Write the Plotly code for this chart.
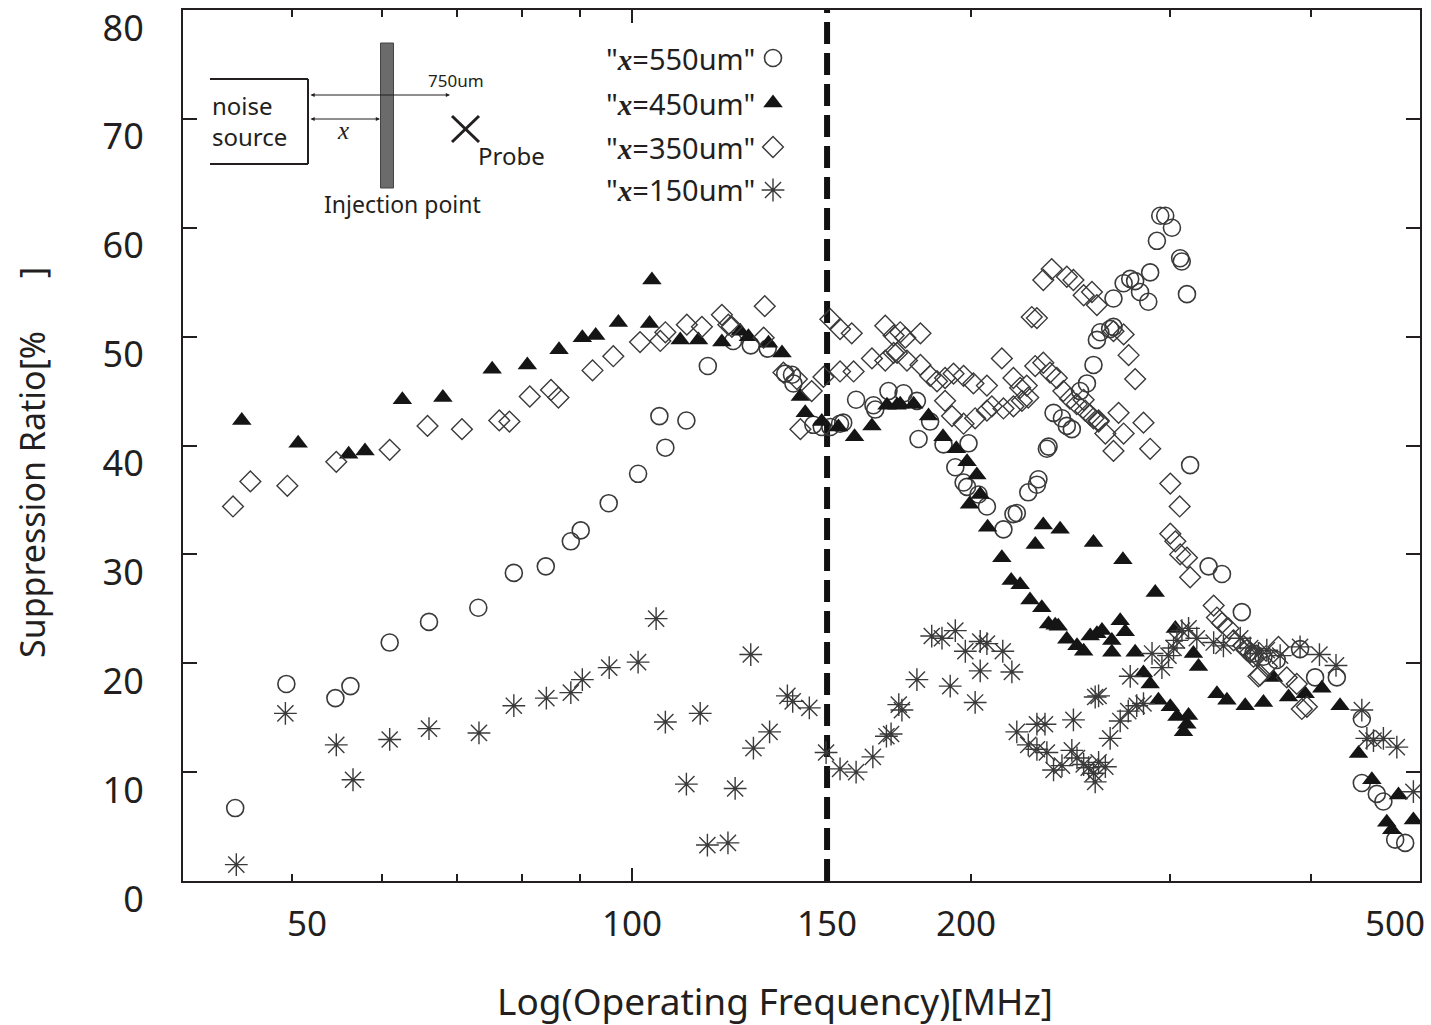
import math
import plotly.graph_objects as go

# ---------------- data (frequency MHz, suppression ratio %) ----------------
f550 = [44.5, 49.4, 54.6, 56.3, 61.0, 66.1, 73.1, 78.6, 83.9, 88.3,
        90.1, 95.4, 101.3, 105.8, 107.1, 111.8, 116.8, 123.0, 127.5, 132.0,
        136.8, 138.7, 139.1, 144.9, 147.4, 150.0, 153.0, 154.0, 158.1, 163.8,
        164.4, 168.9, 174.2, 179.0, 183.9, 179.6, 189.0, 198.9, 193.6, 196.9,
        198.3, 203.0, 206.5, 213.6, 218.0, 219.5, 224.7, 228.7, 229.4, 233.4,
        234.2, 236.6, 240.7, 243.1, 245.6, 249.8, 253.3, 256.7, 258.5, 260.3,
        265.6, 267.4, 267.4, 273.0, 276.7, 279.5, 282.3, 287.1, 288.2, 292.2,
        294.2, 297.2, 301.3, 306.4, 307.4, 310.7, 312.7, 324.7, 333.7, 347.5,
        355.9, 363.2, 373.2, 391.4, 403.6, 421.9, 444.0, 444.0, 457.8, 464.0,
        475.3, 485.1]
r550 = [6.7, 18.1, 16.8, 17.9, 21.9, 23.8, 25.1, 28.3, 28.9, 31.2,
        32.2, 34.7, 37.4, 42.7, 39.8, 42.3, 47.3, 49.6, 49.2, 48.9,
        46.6, 46.5, 45.7, 41.9, 41.7, 41.7, 42.0, 42.1, 44.2, 43.7,
        43.3, 45.0, 44.8, 44.1, 42.2, 40.6, 40.1, 40.2, 38.0, 36.6,
        36.2, 35.5, 34.4, 32.3, 33.7, 33.8, 35.7, 36.4, 36.9, 39.7,
        39.9, 43.0, 42.5, 41.8, 41.5, 45.0, 45.7, 47.4, 49.7, 50.4,
        50.7, 50.9, 53.5, 54.9, 55.3, 55.1, 54.1, 53.2, 55.9, 58.8,
        61.1, 61.1, 60.0, 57.2, 56.9, 53.9, 38.2, 28.9, 28.2, 24.7,
        20.9, 20.6, 20.3, 21.3, 18.7, 18.7, 14.9, 9.0, 8.0, 7.3,
        3.8, 3.5]

f450 = [45.1, 50.6, 56.1, 58.0, 62.6, 68.0, 75.2, 80.8, 86.2, 90.4,
        92.9, 97.3, 103.7, 104.2, 110.4, 114.6, 120.2, 124.8, 126.9, 132.2,
        135.9, 141.1, 142.5, 147.4, 152.5, 157.6, 163.3, 168.4, 171.9, 173.0,
        177.8, 183.3, 188.8, 194.0, 198.3, 202.3, 203.7, 199.3, 206.8, 212.9,
        217.0, 221.0, 225.5, 231.0, 234.2, 238.9, 243.1, 248.2, 251.6, 255.0,
        258.5, 227.9, 231.7, 239.8, 256.7, 237.4, 261.2, 266.5, 266.5, 271.1,
        273.9, 279.5, 272.6, 291.2, 284.3, 288.2, 293.1, 300.3, 304.4, 311.7,
        308.5, 310.6, 303.4, 314.8, 318.1, 330.3, 337.1, 349.9, 363.2, 370.7,
        382.3, 395.5, 409.2, 424.7, 441.0, 453.2, 467.2, 472.0, 478.5, 493.3]
r450 = [42.3, 40.2, 39.2, 39.5, 44.2, 44.4, 47.0, 47.4, 48.8, 49.9,
        50.1, 51.3, 51.2, 55.2, 49.7, 49.7, 49.5, 50.5, 50.0, 49.4,
        48.5, 44.5, 43.0, 42.2, 41.7, 40.8, 41.8, 43.7, 43.7, 43.8,
        43.8, 42.7, 40.8, 39.7, 38.5, 37.3, 35.5, 34.6, 32.5, 29.7,
        27.6, 27.2, 25.8, 25.1, 23.6, 23.4, 22.2, 21.6, 21.1, 22.5,
        22.7, 30.9, 32.7, 32.3, 31.1, 23.5, 23.0, 22.1, 21.0, 23.9,
        22.9, 21.0, 29.5, 26.5, 19.1, 18.1, 16.6, 16.0, 15.1, 15.2,
        13.7, 14.4, 23.2, 20.9, 19.7, 17.2, 16.6, 16.1, 16.4, 18.7,
        16.9, 17.2, 17.7, 16.1, 11.7, 9.3, 5.4, 4.7, 7.9, 5.6]

f350 = [44.3, 45.9, 49.5, 54.7, 61.0, 65.9, 70.7, 76.3, 77.9, 81.2,
        84.8, 86.1, 92.3, 96.3, 101.7, 106.0, 107.1, 111.9, 115.4, 120.2,
        121.8, 122.7, 130.9, 131.2, 136.3, 140.1, 144.4, 141.1, 147.9, 150.0,
        153.0, 156.7, 153.0, 157.3, 167.8, 170.7, 163.3, 167.8, 170.7, 173.0,
        174.8, 180.3, 171.9, 175.4, 180.3, 183.9, 186.5, 189.6, 192.9, 196.9,
        200.9, 206.5, 189.6, 192.3, 196.9, 201.6, 206.5, 208.6, 212.9, 218.0,
        221.0, 224.0, 213.6, 218.0, 221.8, 224.7, 226.3, 228.7, 227.9, 231.7,
        234.9, 238.2, 241.4, 244.7, 248.1, 252.4, 256.7, 259.4, 231.7, 235.7,
        243.1, 246.4, 251.6, 255.9, 258.5, 267.4, 273.0, 275.8, 279.5, 251.6,
        255.0, 259.4, 263.0, 267.4, 273.0, 270.2, 284.3, 288.2, 300.3, 306.1,
        300.3, 303.4, 306.4, 310.7, 312.7, 328.1, 330.3, 333.7, 338.2, 341.7,
        348.7, 353.5, 358.3, 359.5, 351.0, 355.9, 360.8, 365.7, 374.5, 380.9,
        388.8, 392.8, 396.9]
r350 = [34.4, 36.7, 36.3, 38.5, 39.6, 41.8, 41.5, 42.3, 42.2, 44.5,
        45.1, 44.4, 46.9, 48.2, 49.5, 49.6, 50.4, 51.1, 50.9, 52.0,
        51.1, 50.9, 49.9, 52.8, 46.7, 46.1, 45.0, 41.5, 46.3, 51.6,
        50.7, 50.3, 46.8, 46.8, 51.0, 50.1, 48.0, 47.8, 48.5, 50.4,
        49.9, 50.3, 48.5, 47.8, 47.4, 46.4, 45.9, 46.2, 46.6, 46.4,
        45.7, 45.5, 44.1, 42.7, 42.0, 42.5, 43.2, 43.6, 48.0, 46.2,
        45.3, 45.5, 43.4, 43.6, 44.1, 44.4, 51.8, 51.7, 47.3, 47.6,
        46.7, 46.2, 45.0, 44.3, 43.8, 43.2, 42.5, 42.2, 55.2, 56.2,
        55.5, 55.2, 53.8, 54.1, 52.9, 50.5, 50.2, 48.3, 46.1, 44.2,
        42.8, 42.3, 41.1, 39.5, 41.1, 43.0, 42.1, 39.7, 36.5, 34.4,
        31.9, 31.2, 30.0, 29.7, 27.9, 25.3, 24.2, 23.7, 23.2, 22.1,
        21.6, 21.0, 20.7, 18.8, 21.2, 20.6, 18.9, 19.7, 21.5, 18.7,
        18.1, 15.8, 16.0]

f150 = [44.6, 49.3, 54.7, 56.6, 61.0, 66.1, 73.2, 78.6, 84.0, 88.3,
        90.4, 95.5, 101.3, 105.1, 107.1, 115.0, 111.8, 116.7, 121.7, 123.5,
        127.5, 128.2, 132.5, 137.4, 138.9, 143.7, 148.7, 153.0, 158.1, 163.6,
        168.2, 169.8, 172.5, 173.6, 179.0, 184.5, 188.4, 193.6, 191.6, 197.6,
        203.7, 206.5, 203.7, 201.6, 213.3, 217.3, 219.5, 224.7, 228.7, 228.7,
        232.5, 233.4, 236.6, 240.7, 246.4, 245.6, 248.2, 251.6, 254.2, 256.7,
        257.6, 259.4, 263.0, 257.6, 265.6, 259.4, 271.1, 275.6, 280.4, 284.3,
        276.7, 289.3, 295.2, 299.2, 302.3, 304.4, 307.5, 311.7, 317.0, 328.1,
        334.7, 346.4, 353.5, 359.5, 365.7, 375.8, 391.4, 407.2, 421.2, 444.0,
        448.6, 454.7, 464.0, 476.9, 493.3]
r150 = [1.5, 15.4, 12.5, 9.3, 13.0, 14.0, 13.6, 16.1, 16.8, 17.3,
        18.5, 19.6, 20.1, 24.1, 14.6, 15.4, 8.9, 3.3, 3.5, 8.5,
        20.8, 12.2, 13.7, 17.0, 16.5, 15.9, 11.8, 10.3, 10.0, 11.4,
        13.3, 13.5, 16.2, 15.7, 18.5, 22.5, 22.3, 23.0, 17.9, 21.1,
        22.0, 21.8, 19.3, 16.4, 21.1, 19.2, 13.7, 12.5, 12.1, 14.4,
        14.4, 11.8, 10.2, 10.6, 14.8, 12.0, 11.3, 10.7, 10.4, 9.9,
        16.9, 10.9, 10.5, 9.1, 13.1, 17.0, 14.7, 15.6, 16.1, 16.3,
        18.8, 20.9, 19.6, 20.7, 21.4, 22.1, 23.0, 23.2, 22.3, 21.9,
        21.6, 22.3, 21.4, 20.9, 21.2, 20.7, 21.5, 20.8, 19.8, 15.7,
        13.1, 12.9, 13.1, 12.3, 8.2]

series_labels = ["550um", "450um", "350um", "150um"]
boundary_freq = 149
x_tick_labels = [50, 100, 150, 200, 500]
x_major_ticks = [100]
x_minor_ticks = [50, 60, 70, 80, 90, 200, 300, 400, 500]
y_ticks = [0, 10, 20, 30, 40, 50, 60, 70, 80]

# ---------------- styling ----------------
INK = "#231f20"
GREY = "#3a3a3a"
SANS = "Noto Sans"
SERIF = "Liberation Serif"
W, H = 1431, 1025
L, R, T, B = 183, 1420, 10, 881


def px(x):
    return (x - L) / (R - L)


def py(y):
    return (B - y) / (B - T)


styles = [
    dict(symbol="circle-open", size=17, color=GREY, line=dict(width=1.6, color=GREY)),
    dict(symbol="triangle-up", size=17, color="#151515", line=dict(width=0)),
    dict(symbol="diamond-open", size=16, color=GREY, line=dict(width=1.4, color=GREY)),
    dict(symbol="asterisk-open", size=19, color=GREY, line=dict(width=1.4, color=GREY)),
]
data = [(f550, r550), (f450, r450), (f350, r350), (f150, r150)]

fig = go.Figure()

# dashed boundary line
fig.add_trace(go.Scatter(x=[boundary_freq, boundary_freq], y=[0, 80], mode="lines",
                         line=dict(color="#111111", width=6, dash="22px,9px"),
                         showlegend=False, hoverinfo="skip"))

for (fx, ry), st, name in zip(data, styles, series_labels):
    fig.add_trace(go.Scatter(x=fx, y=ry, mode="markers", marker=st, name=name,
                             showlegend=False))

# legend markers on an overlay axis (0..1)
leg_y = [py(58), py(103), py(147), py(190)]
for st, yy in zip(styles, leg_y):
    fig.add_trace(go.Scatter(x=[px(773)], y=[yy], mode="markers", marker=st,
                             xaxis="x2", yaxis="y2", showlegend=False, hoverinfo="skip"))

fig.update_layout(
    width=W, height=H,
    margin=dict(l=L, r=W - R, t=T, b=H - B, pad=0),
    paper_bgcolor="white", plot_bgcolor="white",
    font=dict(family=SANS, color=INK),
    showlegend=False,
    xaxis=dict(type="log", range=[math.log10(40), math.log10(500)], automargin=False,
               showline=True, linecolor=INK, linewidth=2, mirror="ticks",
               ticks="inside", tickvals=x_major_ticks, ticklen=13, tickwidth=2,
               tickcolor=INK, showticklabels=False, showgrid=False, zeroline=False,
               minor=dict(tickvals=x_minor_ticks, ticks="inside", ticklen=7,
                          tickwidth=2, tickcolor=INK, showgrid=False)),
    yaxis=dict(range=[0, 80], tickvals=y_ticks, showline=True, linecolor=INK,
               automargin=False,
               linewidth=2, mirror="ticks", ticks="inside", ticklen=14, tickwidth=2,
               tickcolor=INK, showgrid=False, zeroline=False,
               tickfont=dict(family=SANS, size=36, color=INK),
               ticklabelshift=18, ticklabelstandoff=30),
    xaxis2=dict(range=[0, 1], overlaying="x", visible=False, automargin=False),
    yaxis2=dict(range=[0, 1], overlaying="y", visible=False, automargin=False),
)

ann = []
# x tick labels
shifts = {50: 15, 100: 0, 150: -3, 200: -5, 500: -25}
for v in x_tick_labels:
    ann.append(dict(x=math.log10(v), y=0, xref="x", yref="paper", text=str(v),
                    showarrow=False, xanchor="center", yanchor="middle",
                    xshift=shifts[v], yshift=-41,
                    font=dict(family=SANS, size=35, color=INK)))
# axis titles
ann.append(dict(x=px(775), y=0, xref="paper", yref="paper",
                text="Log(Operating Frequency)[MHz]", showarrow=False,
                xanchor="center", yanchor="middle", yshift=-119,
                font=dict(family=SANS, size=37, color=INK)))
ann.append(dict(x=px(32), y=py(463), xref="paper", yref="paper",
                text="Suppression Ratio[%\u00a0\u00a0\u00a0\u00a0\u00a0\u00a0]", textangle=-90,
                showarrow=False, xanchor="center", yanchor="middle",
                font=dict(family=SANS, size=34, color=INK)))
# legend texts
for lab, yy in zip(series_labels, [58, 103, 147, 190]):
    ann.append(dict(x=px(757), y=py(yy), xref="paper", yref="paper",
                    text='"<span style="font-family:%s"><b><i>x</i></b></span>=%s"' % (SERIF, lab),
                    showarrow=False, xanchor="right", yanchor="middle",
                    font=dict(family=SANS, size=29, color=INK)))
# inset diagram texts
def txt(x, y, s, size, anchor="center", family=SANS, align="center"):
    return dict(x=px(x), y=py(y), xref="paper", yref="paper", text=s, showarrow=False,
                xanchor=anchor, yanchor="middle", align=align,
                font=dict(family=family, size=size, color=INK))

ann += [
    txt(210, 121, "noise<br>source", 24, "left", SANS, "left"),
    txt(343, 131, "<i>x</i>", 25, "center", SERIF),
    txt(456, 80, "750um", 17),
    txt(511, 155, "Probe", 24),
    txt(402, 204, "Injection point", 23),
]
# arrows
for (x0, x1, yy) in [(309, 450, 95), (309, 380, 119)]:
    ann.append(dict(x=px(x1), y=py(yy), xref="paper", yref="paper", ax=-(x1 - x0), ay=0,
                    axref="pixel", ayref="pixel", text="", showarrow=True,
                    arrowhead=2, startarrowhead=2, arrowside="end+start",
                    arrowsize=0.7, startarrowsize=0.7, arrowwidth=1.2, arrowcolor=INK))
fig.update_layout(annotations=ann)

shapes = []
# noise source box (open on the left)
for (x0, y0, x1, y1) in [(210, 79, 308, 79), (308, 79, 308, 164), (210, 164, 308, 164)]:
    shapes.append(dict(type="line", xref="paper", yref="paper", x0=px(x0), y0=py(y0),
                       x1=px(x1), y1=py(y1), line=dict(color=INK, width=2)))
# injection bar
shapes.append(dict(type="rect", xref="paper", yref="paper", x0=px(380.5), y0=py(43),
                   x1=px(393.5), y1=py(188), fillcolor="#6b6b6b",
                   line=dict(color="#444444", width=1)))
# probe cross
for (x0, y0, x1, y1) in [(452, 116, 479, 142), (452, 142, 479, 116)]:
    shapes.append(dict(type="line", xref="paper", yref="paper", x0=px(x0), y0=py(y0),
                       x1=px(x1), y1=py(y1), line=dict(color=INK, width=3)))
fig.update_layout(shapes=shapes)

fig.write_html("out.html")
